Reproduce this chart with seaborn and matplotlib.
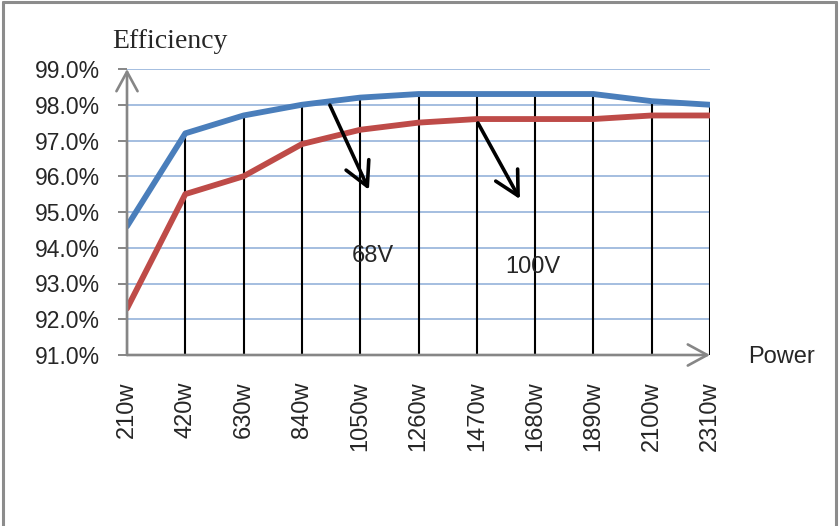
import numpy as np
import pandas as pd
import matplotlib
matplotlib.use("Agg")
import matplotlib.pyplot as plt
from matplotlib.lines import Line2D
import seaborn as sns

# Efficiency curves for the two input voltages
power_labels = ["210w", "420w", "630w", "840w", "1050w", "1260w",
                "1470w", "1680w", "1890w", "2100w", "2310w"]
eff_68v = [94.6, 97.2, 97.7, 98.0, 98.2, 98.3, 98.3, 98.3, 98.3, 98.1, 98.0]
eff_100v = [92.3, 95.5, 96.0, 96.9, 97.3, 97.5, 97.6, 97.6, 97.6, 97.7, 97.7]
y_ticks = [91, 92, 93, 94, 95, 96, 97, 98, 99]
y_tick_labels = ["91.0%", "92.0%", "93.0%", "94.0%", "95.0%",
                 "96.0%", "97.0%", "98.0%", "99.0%"]

sns.set_style("white")
plt.rcParams["font.family"] = ["Liberation Sans", "DejaVu Sans"]

W, H = 840, 526
fig = plt.figure(figsize=(W / 100, H / 100), dpi=100)
ax = fig.add_axes([127 / W, 1 - 355 / H, 583 / W, 286 / H])

idx = np.arange(len(power_labels))
df = pd.DataFrame({
    "pos": np.concatenate([idx, idx]),
    "eff": eff_68v + eff_100v,
    "series": ["68V"] * len(idx) + ["100V"] * len(idx),
})

blue = "#4A7EBB"
red = "#BE4B48"
grid_c = "#9DB9DD"
axis_c = "#868686"

# horizontal grid
for v in y_ticks[1:]:
    ax.axhline(v, color=grid_c, lw=1.3, zorder=1)

# drop lines from the upper curve to the category axis
ax.vlines(idx, y_ticks[0], eff_68v, color="black", lw=1.5, zorder=2)

sns.lineplot(data=df, x="pos", y="eff", hue="series",
             palette=[blue, red], linewidth=4.2, legend=False,
             ax=ax, zorder=3)

ax.set_xlim(0, len(idx) - 1)
ax.set_ylim(y_ticks[0], y_ticks[-1])
for s in ax.spines.values():
    s.set_visible(False)

ax.set_yticks(y_ticks)
ax.set_yticklabels(y_tick_labels, fontsize=16.5)
ax.set_xticks(idx)
ax.set_xticklabels(power_labels, rotation=90, fontsize=17)
ax.tick_params(axis="y", left=True, length=6.5, width=1.4, color=axis_c, pad=13)
ax.tick_params(axis="x", bottom=False, length=0, pad=19)
ax.set_xlabel("")
ax.set_ylabel("")

# axes drawn as arrows
arrow_kw = dict(arrowstyle="->,head_length=0.7,head_width=0.38",
                color=axis_c, lw=1.9, shrinkA=0, shrinkB=0, mutation_scale=20)
ax.annotate("", xy=(0, 1), xytext=(0, 0), xycoords="axes fraction",
            arrowprops=arrow_kw, zorder=4)
ax.annotate("", xy=(1, 0), xytext=(0, 0), xycoords="axes fraction",
            arrowprops=arrow_kw, zorder=4)

# pointers to the two curves
pointer_kw = dict(arrowstyle="->,head_length=0.85,head_width=0.45",
                  color="black", lw=2.6, shrinkA=0, shrinkB=0, mutation_scale=20)
ax.annotate("", xy=(4.15, 95.62), xytext=(3.48, 97.99), arrowprops=pointer_kw, zorder=5)
ax.annotate("", xy=(6.74, 95.36), xytext=(6.02, 97.49), arrowprops=pointer_kw, zorder=5)
ax.text(3.85, 93.6, "68V", fontsize=17, va="baseline", ha="left", zorder=6)
ax.text(6.48, 93.29, "100V", fontsize=17, va="baseline", ha="left", zorder=6)

fig.text(112 / W, 1 - 48 / H, "Efficiency", fontsize=20,
         family=["Liberation Serif", "DejaVu Serif"], va="baseline", ha="left")
fig.text(748 / W, 1 - 363 / H, "Power", fontsize=17, va="baseline", ha="left")

# chart frame
fc = "#8C8C8C"
for (x0, y0, x1, y1) in [(3, 2, 836, 2), (3, 2, 3, H + 5), (836, 2, 836, H + 5)]:
    fig.add_artist(Line2D([x0 / W, x1 / W], [1 - y0 / H, 1 - y1 / H],
                          color=fc, lw=2.2, transform=fig.transFigure))

fig.savefig("out.png", dpi=100)
